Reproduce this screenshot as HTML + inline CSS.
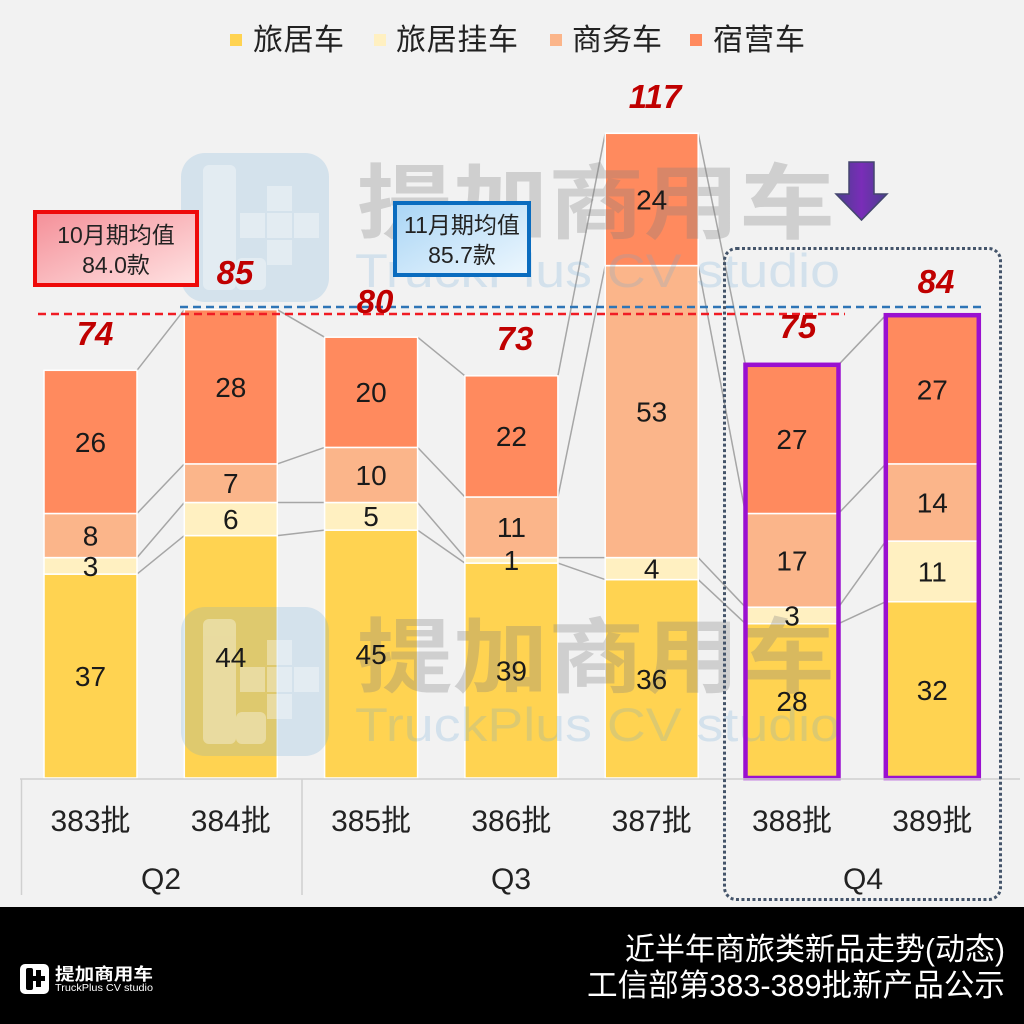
<!DOCTYPE html>
<html><head><meta charset="utf-8"><style>
html,body{margin:0;padding:0;background:#F2F2F2;}
svg{display:block;}
text{font-family:"Liberation Sans","Noto Sans CJK SC",sans-serif;}
</style></head><body>
<svg width="1024" height="1024" viewBox="0 0 1024 1024" xmlns="http://www.w3.org/2000/svg">
<defs>
<linearGradient id="gr" x1="0" y1="0" x2="1" y2="1"><stop offset="0" stop-color="#F48F98"/><stop offset="1" stop-color="#FFE3E3"/></linearGradient>
<linearGradient id="gb" x1="0" y1="0" x2="1" y2="1"><stop offset="0" stop-color="#A9D5F5"/><stop offset="1" stop-color="#EDF7FE"/></linearGradient>
<linearGradient id="ga" x1="0" y1="0" x2="1" y2="0"><stop offset="0" stop-color="#4A3F8E"/><stop offset="0.5" stop-color="#7A2DB8"/><stop offset="1" stop-color="#4A3F8E"/></linearGradient>
</defs>
<rect x="0" y="0" width="1024" height="1024" fill="#F2F2F2"/>

<!-- legend -->
<rect x="230" y="34" width="12" height="12" fill="#FFD351"/>
<text x="253" y="50" font-size="30" fill="#222" textLength="91">旅居车</text>
<rect x="374" y="34" width="12" height="12" fill="#FFF0C1"/>
<text x="396" y="50" font-size="30" fill="#222" textLength="122">旅居挂车</text>
<rect x="550" y="34" width="12" height="12" fill="#FBB58A"/>
<text x="572" y="50" font-size="30" fill="#222" textLength="90">商务车</text>
<rect x="690" y="34" width="12" height="12" fill="#FF8A5E"/>
<text x="713" y="50" font-size="30" fill="#222" textLength="92">宿营车</text>

<!-- series lines -->
<g stroke="#A6A6A6" stroke-width="1.5" fill="none">
<line x1="137" y1="574.1" x2="184.3" y2="535.6"/><line x1="137" y1="557.6" x2="184.3" y2="502.5"/><line x1="137" y1="513.5" x2="184.3" y2="463.9"/><line x1="137" y1="370.3" x2="184.3" y2="309.7"/>
<line x1="277.3" y1="535.6" x2="324.6" y2="530.1"/><line x1="277.3" y1="502.5" x2="324.6" y2="502.5"/><line x1="277.3" y1="463.9" x2="324.6" y2="447.4"/><line x1="277.3" y1="309.7" x2="324.6" y2="337.2"/>
<line x1="417.6" y1="530.1" x2="464.9" y2="563.1"/><line x1="417.6" y1="502.5" x2="464.9" y2="557.6"/><line x1="417.6" y1="447.4" x2="464.9" y2="497.0"/><line x1="417.6" y1="337.2" x2="464.9" y2="375.8"/>
<line x1="557.9" y1="563.1" x2="605.2" y2="579.6"/><line x1="557.9" y1="557.6" x2="605.2" y2="557.6"/><line x1="557.9" y1="497.0" x2="605.2" y2="265.6"/><line x1="557.9" y1="375.8" x2="605.2" y2="133.3"/>
<line x1="698.2" y1="579.6" x2="745.5" y2="623.7"/><line x1="698.2" y1="557.6" x2="745.5" y2="607.2"/><line x1="698.2" y1="265.6" x2="745.5" y2="513.5"/><line x1="698.2" y1="133.3" x2="745.5" y2="364.8"/>
<line x1="838.5" y1="623.7" x2="885.8" y2="601.7"/><line x1="838.5" y1="607.2" x2="885.8" y2="541.1"/><line x1="838.5" y1="513.5" x2="885.8" y2="463.9"/><line x1="838.5" y1="364.8" x2="885.8" y2="315.2"/>
</g>

<!-- bars -->
<g stroke="#FFFFFF" stroke-width="1.5">
<rect x="44" y="574.1" width="93" height="203.9" fill="#FFD351"/><rect x="44" y="557.6" width="93" height="16.5" fill="#FFF0C1"/><rect x="44" y="513.5" width="93" height="44.1" fill="#FBB58A"/><rect x="44" y="370.3" width="93" height="143.2" fill="#FF8A5E"/>
<rect x="184.3" y="535.6" width="93" height="242.4" fill="#FFD351"/><rect x="184.3" y="502.5" width="93" height="33.1" fill="#FFF0C1"/><rect x="184.3" y="463.9" width="93" height="38.6" fill="#FBB58A"/><rect x="184.3" y="309.7" width="93" height="154.2" fill="#FF8A5E"/>
<rect x="324.6" y="530.1" width="93" height="247.9" fill="#FFD351"/><rect x="324.6" y="502.5" width="93" height="27.6" fill="#FFF0C1"/><rect x="324.6" y="447.4" width="93" height="55.1" fill="#FBB58A"/><rect x="324.6" y="337.2" width="93" height="110.2" fill="#FF8A5E"/>
<rect x="464.9" y="563.1" width="93" height="214.9" fill="#FFD351"/><rect x="464.9" y="557.6" width="93" height="5.5" fill="#FFF0C1"/><rect x="464.9" y="497.0" width="93" height="60.6" fill="#FBB58A"/><rect x="464.9" y="375.8" width="93" height="121.2" fill="#FF8A5E"/>
<rect x="605.2" y="579.6" width="93" height="198.4" fill="#FFD351"/><rect x="605.2" y="557.6" width="93" height="22" fill="#FFF0C1"/><rect x="605.2" y="265.6" width="93" height="292" fill="#FBB58A"/><rect x="605.2" y="133.3" width="93" height="132.3" fill="#FF8A5E"/>
<rect x="745.5" y="623.7" width="93" height="154.3" fill="#FFD351"/><rect x="745.5" y="607.2" width="93" height="16.5" fill="#FFF0C1"/><rect x="745.5" y="513.5" width="93" height="93.7" fill="#FBB58A"/><rect x="745.5" y="364.8" width="93" height="148.7" fill="#FF8A5E"/>
<rect x="885.8" y="601.7" width="93" height="176.3" fill="#FFD351"/><rect x="885.8" y="541.1" width="93" height="60.6" fill="#FFF0C1"/><rect x="885.8" y="463.9" width="93" height="77.2" fill="#FBB58A"/><rect x="885.8" y="315.2" width="93" height="148.7" fill="#FF8A5E"/>
</g>

<!-- watermarks -->
<g>
<rect x="181" y="153" width="148" height="149" rx="24" fill="#6AAAD8" opacity="0.22"/>
<g fill="#FFFFFF" opacity="0.35">
<rect x="203" y="165" width="33" height="125" rx="6"/>
<rect x="236" y="258" width="30" height="32" rx="6"/>
<rect x="267" y="186" width="25" height="25"/>
<rect x="267" y="213" width="25" height="25"/>
<rect x="267" y="240" width="25" height="25"/>
<rect x="240" y="213" width="25" height="25"/>
<rect x="294" y="213" width="25" height="25"/>
</g>
<text x="357" y="232" font-size="82" font-weight="bold" fill="#808080" opacity="0.3" textLength="478" lengthAdjust="spacingAndGlyphs">提加商用车</text>
<text x="355" y="287" font-size="47" fill="#6AAAD8" opacity="0.22" textLength="485" lengthAdjust="spacingAndGlyphs">TruckPlus CV studio</text>
</g>
<g transform="translate(0,454)">
<rect x="181" y="153" width="148" height="149" rx="24" fill="#6AAAD8" opacity="0.22"/>
<g fill="#FFFFFF" opacity="0.35">
<rect x="203" y="165" width="33" height="125" rx="6"/>
<rect x="236" y="258" width="30" height="32" rx="6"/>
<rect x="267" y="186" width="25" height="25"/>
<rect x="267" y="213" width="25" height="25"/>
<rect x="267" y="240" width="25" height="25"/>
<rect x="240" y="213" width="25" height="25"/>
<rect x="294" y="213" width="25" height="25"/>
</g>
<text x="357" y="232" font-size="82" font-weight="bold" fill="#808080" opacity="0.3" textLength="478" lengthAdjust="spacingAndGlyphs">提加商用车</text>
<text x="355" y="287" font-size="47" fill="#6AAAD8" opacity="0.22" textLength="485" lengthAdjust="spacingAndGlyphs">TruckPlus CV studio</text>
</g>

<rect x="745.5" y="364.8" width="93" height="413.2" fill="none" stroke="#9A10D0" stroke-width="4.5"/>
<rect x="885.8" y="315.2" width="93" height="462.8" fill="none" stroke="#9A10D0" stroke-width="4.5"/>

<!-- bar labels -->
<g font-size="28" fill="#1A1A1A" text-anchor="middle">
<text x="90.5" y="686">37</text><text x="90.5" y="576">3</text><text x="90.5" y="545.6">8</text><text x="90.5" y="452">26</text>
<text x="230.8" y="667">44</text><text x="230.8" y="529">6</text><text x="230.8" y="493">7</text><text x="230.8" y="397">28</text>
<text x="371.1" y="664">45</text><text x="371.1" y="526">5</text><text x="371.1" y="485">10</text><text x="371.1" y="402">20</text>
<text x="511.4" y="680.5">39</text><text x="511.4" y="570">1</text><text x="511.4" y="537">11</text><text x="511.4" y="446">22</text>
<text x="651.7" y="689">36</text><text x="651.7" y="578.6">4</text><text x="651.7" y="421.6">53</text><text x="651.7" y="209.5">24</text>
<text x="792" y="711">28</text><text x="792" y="625.5">3</text><text x="792" y="570.4">17</text><text x="792" y="449">27</text>
<text x="932.3" y="700">32</text><text x="932.3" y="581.4">11</text><text x="932.3" y="512.5">14</text><text x="932.3" y="399.6">27</text>
</g>

<!-- average lines -->
<line x1="38" y1="314" x2="845" y2="314" stroke="#F01C24" stroke-width="2.5" stroke-dasharray="8 5"/>
<line x1="180" y1="307" x2="986" y2="307" stroke="#2E75B6" stroke-width="2.5" stroke-dasharray="8 5"/>

<!-- boxes -->
<rect x="35" y="212" width="162" height="73" fill="url(#gr)" stroke="#EE0A0A" stroke-width="4"/>
<text x="116" y="243" font-size="23" fill="#222" text-anchor="middle">10月期均值</text>
<text x="116" y="273" font-size="23" fill="#222" text-anchor="middle">84.0款</text>
<rect x="395" y="203" width="134" height="72" fill="url(#gb)" stroke="#0A6CBF" stroke-width="4"/>
<text x="462" y="233" font-size="23" fill="#222" text-anchor="middle">11月期均值</text>
<text x="462" y="263" font-size="23" fill="#222" text-anchor="middle">85.7款</text>

<!-- totals -->
<g font-size="33" font-weight="bold" font-style="italic" fill="#C00000" text-anchor="middle">
<text x="95" y="345">74</text>
<text x="235" y="284">85</text>
<text x="375" y="313">80</text>
<text x="515" y="350">73</text>
<text x="655" y="108">117</text>
<text x="798" y="338">75</text>
<text x="936" y="293">84</text>
</g>

<!-- arrow -->
<polygon points="849,162 874,162 874,194 887,194 861.5,220 836,194 849,194" fill="url(#ga)" stroke="#44466E" stroke-width="1.5"/>

<!-- axis -->
<g stroke="#D0D0D0" stroke-width="1.5">
<line x1="20" y1="779" x2="1020" y2="779"/>
<line x1="21.5" y1="779" x2="21.5" y2="895"/>
<line x1="302" y1="779" x2="302" y2="895"/>
</g>
<g font-size="30" fill="#222" text-anchor="middle">
<text x="90.5" y="831">383批</text>
<text x="230.8" y="831">384批</text>
<text x="371.1" y="831">385批</text>
<text x="511.4" y="831">386批</text>
<text x="651.7" y="831">387批</text>
<text x="792" y="831">388批</text>
<text x="932.3" y="831">389批</text>
<text x="161" y="889">Q2</text>
<text x="511" y="889">Q3</text>
<text x="863" y="889">Q4</text>
</g>

<!-- dotted box -->
<rect x="724.5" y="248.5" width="276" height="651" rx="12" fill="none" stroke="#44546A" stroke-width="3" stroke-dasharray="3 2.5"/>

<!-- footer -->
<rect x="0" y="907" width="1024" height="117" fill="#000"/>
<text x="625" y="960" font-size="31" fill="#FFF" textLength="380" lengthAdjust="spacingAndGlyphs">近半年商旅类新品走势(动态)</text>
<text x="587" y="996" font-size="31" fill="#FFF" textLength="418" lengthAdjust="spacingAndGlyphs">工信部第383-389批新产品公示</text>
<rect x="20" y="964" width="29" height="30" rx="5" fill="#FFF"/>
<rect x="26" y="968" width="7" height="22" rx="2" fill="#000"/>
<rect x="36" y="970" width="5" height="17" fill="#000"/>
<rect x="33" y="976" width="12" height="5" fill="#000"/>
<text x="55" y="980" font-size="17" font-weight="bold" fill="#FFF" textLength="98" lengthAdjust="spacingAndGlyphs">提加商用车</text>
<text x="55" y="991" font-size="10.5" fill="#FFF" textLength="98" lengthAdjust="spacingAndGlyphs">TruckPlus CV studio</text>
</svg>
</body></html>
